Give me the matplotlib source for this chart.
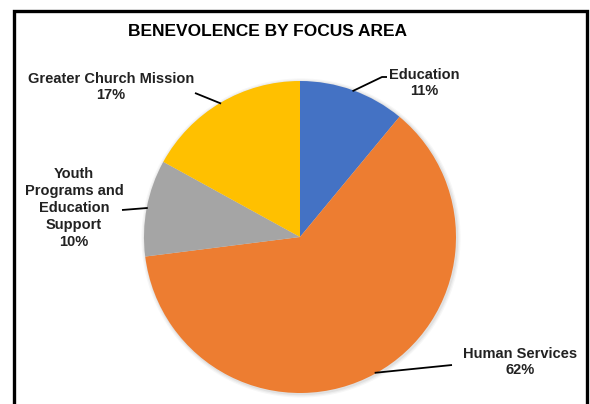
import numpy as np
import matplotlib
matplotlib.use("Agg")
import matplotlib.pyplot as plt
from matplotlib.patches import Rectangle, Circle

plt.rcParams['font.family'] = ['Liberation Sans', 'DejaVu Sans']

title = "BENEVOLENCE BY FOCUS AREA"
categories = ["Education", "Human Services", "Youth\nPrograms and\nEducation\nSupport", "Greater Church Mission"]
values = [11, 62, 10, 17]
colors = ["#4472C4", "#ED7D31", "#A5A5A5", "#FFC000"]

W, H = 590, 404
fig = plt.figure(figsize=(W / 100, H / 100), dpi=100)
ax = fig.add_axes([0, 0, 1, 1])
ax.set_xlim(0, W)
ax.set_ylim(0, H)
ax.set_aspect('equal')
ax.axis('off')

cx, cy, r = 300, H - 237, 156

# soft shadow
for i, a in enumerate([0.05, 0.04, 0.03]):
    ax.add_patch(Circle((cx + 1, cy - 1), r + 1.2 + i * 1.2, color='black', alpha=a, lw=0, zorder=1))

wedges, _ = ax.pie(values, colors=colors, startangle=90, counterclock=False,
                   center=(cx, cy), radius=r, frame=True,
                   wedgeprops=dict(linewidth=0, zorder=2))
ax.set_xlim(0, W)
ax.set_ylim(0, H)
ax.axis('off')

# label positions (text centre, pixel coords from top) and leader elbow
label_pos = [(424, 83), (520, 362), (74, 208), (111, 87)]
elbows = [[(382, 77), (387, 77)], [(452, 365)], [(122, 210)], [(195, 93)]]

total = sum(values)
start = 90.0
for val, cat, (tx, ty), elb in zip(values, categories, label_pos, elbows):
    span = val / total * 360
    mid = np.deg2rad(start - span / 2)
    start -= span
    px = cx + (r - 1) * np.cos(mid)
    py = cy + (r - 1) * np.sin(mid)
    pts = [(px, py)] + [(ex, H - ey) for ex, ey in elb]
    xs, ys = zip(*pts)
    ax.plot(xs, ys, color='black', lw=1.3, zorder=3, solid_capstyle='butt')
    ax.text(tx, H - ty, f"{cat}\n{val}%", ha='center', va='center',
            fontsize=10.5, fontweight='bold', color='#222222', linespacing=1.27, zorder=4)

ax.text(267, H - 31, title, ha='center', va='center', fontsize=12.5,
        fontweight='bold', color='black')

# frame
fig.patches.append(Rectangle((13.5 / W, -0.05), (586.5 - 13.5) / W, (H - 10.5) / H + 0.05,
                             transform=fig.transFigure, fill=False, lw=2.4,
                             edgecolor='black', zorder=10))

fig.savefig("out.png", dpi=100)
